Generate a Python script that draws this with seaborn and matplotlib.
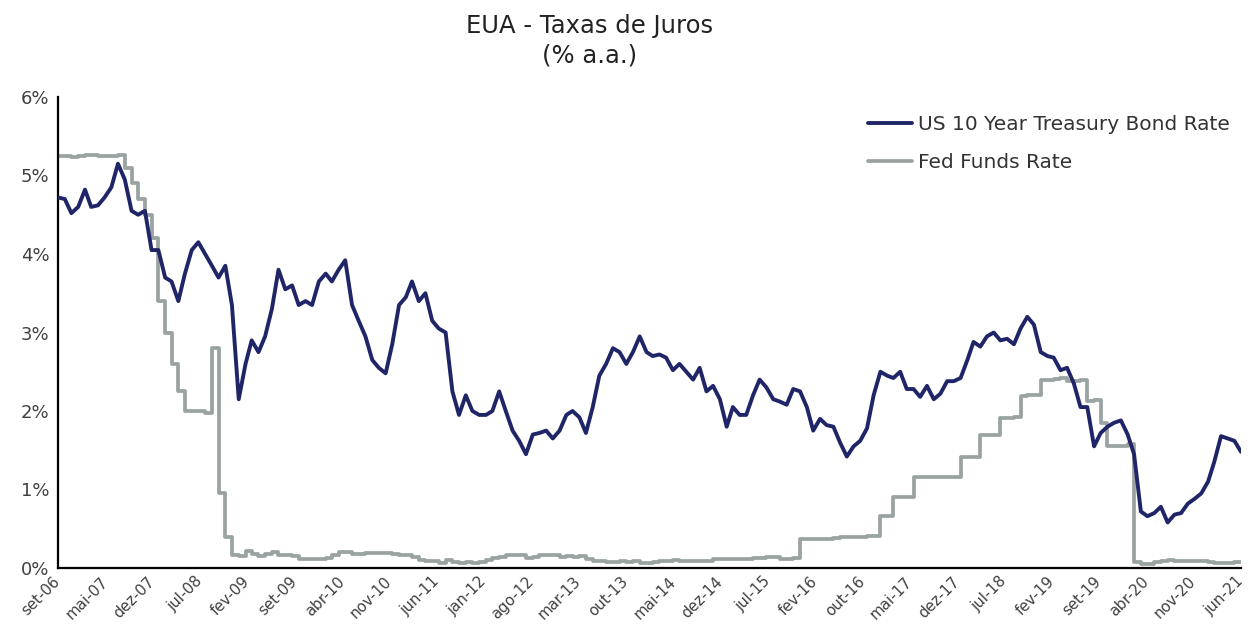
import numpy as np
import pandas as pd
import matplotlib
matplotlib.use("Agg")
import matplotlib.pyplot as plt
import matplotlib.dates as mdates
import seaborn as sns

# ---------------- data (monthly, Sep-2006 .. Jun-2021) ----------------
start_month = "2006-09-30"
end_month = "2021-06-30"

us10y = [
    # 2006 Sep-Dec
    4.72, 4.70, 4.52, 4.60,
    # 2007
    4.82, 4.60, 4.62, 4.72, 4.85, 5.15, 4.95, 4.55, 4.50, 4.55, 4.05, 4.05,
    # 2008
    3.70, 3.65, 3.40, 3.75, 4.05, 4.15, 4.00, 3.85, 3.70, 3.85, 3.35, 2.15,
    # 2009
    2.60, 2.90, 2.75, 2.95, 3.30, 3.80, 3.55, 3.60, 3.35, 3.40, 3.35, 3.65,
    # 2010
    3.75, 3.65, 3.80, 3.92, 3.35, 3.15, 2.95, 2.65, 2.55, 2.48, 2.85, 3.35,
    # 2011
    3.45, 3.65, 3.40, 3.50, 3.15, 3.05, 3.00, 2.25, 1.95, 2.20, 2.00, 1.95,
    # 2012
    1.95, 2.00, 2.25, 2.00, 1.75, 1.62, 1.45, 1.70, 1.72, 1.75, 1.65, 1.75,
    # 2013
    1.95, 2.00, 1.92, 1.72, 2.05, 2.45, 2.60, 2.80, 2.75, 2.60, 2.75, 2.95,
    # 2014
    2.75, 2.70, 2.72, 2.68, 2.52, 2.60, 2.50, 2.40, 2.55, 2.25, 2.32, 2.15,
    # 2015
    1.80, 2.05, 1.95, 1.95, 2.20, 2.40, 2.30, 2.15, 2.12, 2.08, 2.28, 2.25,
    # 2016
    2.05, 1.75, 1.90, 1.82, 1.80, 1.60, 1.42, 1.55, 1.62, 1.78, 2.20, 2.50,
    # 2017
    2.45, 2.42, 2.50, 2.28, 2.28, 2.18, 2.32, 2.15, 2.22, 2.38, 2.38, 2.42,
    # 2018
    2.65, 2.88, 2.82, 2.95, 3.00, 2.90, 2.92, 2.85, 3.05, 3.20, 3.10, 2.75,
    # 2019
    2.70, 2.68, 2.52, 2.55, 2.35, 2.05, 2.05, 1.55, 1.72, 1.80, 1.85, 1.88,
    # 2020
    1.70, 1.45, 0.72, 0.66, 0.70, 0.78, 0.58, 0.68, 0.70, 0.82, 0.88, 0.95,
    # 2021 Jan-Jun
    1.10, 1.35, 1.68, 1.65, 1.62, 1.48,
]

fed_funds = [
    # 2006 Sep-Dec
    5.25, 5.25, 5.25, 5.24,
    # 2007
    5.25, 5.26, 5.26, 5.25, 5.25, 5.25, 5.26, 5.10, 4.90, 4.70, 4.50, 4.20,
    # 2008
    3.40, 3.00, 2.60, 2.25, 2.00, 2.00, 2.00, 1.98, 2.80, 0.95, 0.40, 0.16,
    # 2009
    0.15, 0.22, 0.18, 0.15, 0.18, 0.21, 0.16, 0.16, 0.15, 0.12, 0.12, 0.12,
    # 2010
    0.11, 0.13, 0.16, 0.20, 0.20, 0.18, 0.18, 0.19, 0.19, 0.19, 0.19, 0.18,
    # 2011
    0.17, 0.16, 0.14, 0.10, 0.09, 0.09, 0.07, 0.10, 0.08, 0.07, 0.08, 0.07,
    # 2012
    0.08, 0.10, 0.13, 0.14, 0.16, 0.16, 0.16, 0.13, 0.14, 0.16, 0.16, 0.16,
    # 2013
    0.14, 0.15, 0.14, 0.15, 0.11, 0.09, 0.09, 0.08, 0.08, 0.09, 0.08, 0.09,
    # 2014
    0.07, 0.07, 0.08, 0.09, 0.09, 0.10, 0.09, 0.09, 0.09, 0.09, 0.09, 0.12,
    # 2015
    0.11, 0.11, 0.11, 0.12, 0.12, 0.13, 0.13, 0.14, 0.14, 0.12, 0.12, 0.13,
    # 2016
    0.37, 0.37, 0.37, 0.37, 0.37, 0.38, 0.39, 0.40, 0.40, 0.40, 0.41, 0.41,
    # 2017
    0.66, 0.66, 0.91, 0.91, 0.91, 1.16, 1.16, 1.16, 1.16, 1.16, 1.16, 1.16,
    # 2018
    1.42, 1.42, 1.42, 1.69, 1.70, 1.70, 1.91, 1.91, 1.92, 2.19, 2.20, 2.20,
    # 2019
    2.40, 2.40, 2.41, 2.42, 2.38, 2.38, 2.40, 2.13, 2.14, 1.85, 1.55, 1.55,
    # 2020
    1.55, 1.58, 0.08, 0.05, 0.05, 0.08, 0.09, 0.10, 0.09, 0.09, 0.09, 0.09,
    # 2021 Jan-Jun
    0.09, 0.08, 0.07, 0.07, 0.06, 0.08,
]

x_tick_labels = [
    "set-06", "mai-07", "dez-07", "jul-08", "fev-09", "set-09", "abr-10",
    "nov-10", "jun-11", "jan-12", "ago-12", "mar-13", "out-13", "mai-14",
    "dez-14", "jul-15", "fev-16", "out-16", "mai-17", "dez-17", "jul-18",
    "fev-19", "set-19", "abr-20", "nov-20", "jun-21",
]
y_ticks = [0, 1, 2, 3, 4, 5, 6]

series_names = ["US 10 Year Treasury Bond Rate", "Fed Funds Rate"]
series_colors = ["#1f2566", "#9aa2a2"]

title_text = "EUA - Taxas de Juros\n(% a.a.)"

# ---------------- build frame ----------------
dates = pd.date_range(start_month, end_month, freq="ME")
df = pd.DataFrame({
    "date": np.concatenate([dates, dates]),
    "value": np.concatenate([us10y, fed_funds]),
    "serie": [series_names[0]] * len(dates) + [series_names[1]] * len(dates),
})

# ---------------- plot ----------------
sns.set_theme(style="white")
plt.rcParams["font.family"] = ["DejaVu Sans"]

fig = plt.figure(figsize=(12.48, 6.27), dpi=100)
ax = fig.add_axes([58 / 1248, 1 - 568 / 627, (1241 - 58) / 1248, (568 - 97) / 627])

sns.lineplot(data=df[df.serie == series_names[1]], x="date", y="value",
             color=series_colors[1], linewidth=2.7, drawstyle="steps-pre",
             ax=ax, label=series_names[1], zorder=2)
sns.lineplot(data=df[df.serie == series_names[0]], x="date", y="value",
             color=series_colors[0], linewidth=2.8,
             ax=ax, label=series_names[0], zorder=3)

ax.set_ylim(0, 6)
x0 = mdates.date2num(pd.Timestamp(start_month))
x1 = mdates.date2num(pd.Timestamp(end_month))
ax.set_xlim(x0, x1)
ax.set_yticks(y_ticks)
ax.set_yticklabels([f"{v}%" for v in y_ticks], fontsize=13, color="#404040")
ax.set_xticks(np.linspace(x0, x1, len(x_tick_labels)))
ax.set_xticklabels(x_tick_labels, rotation=45, ha="right", va="center",
                   rotation_mode="anchor", fontsize=10.8, color="#404040")
ax.tick_params(axis="x", length=0, pad=8)
ax.tick_params(axis="y", length=0, pad=6)
ax.set_xlabel("")
ax.set_ylabel("")
for s in ["top", "right"]:
    ax.spines[s].set_visible(False)
for s in ["left", "bottom"]:
    ax.spines[s].set_color("black")
    ax.spines[s].set_linewidth(1.6)
ax.grid(False)

handles, labels = ax.get_legend_handles_labels()
order = [labels.index(n) for n in series_names]
leg = ax.legend([handles[i] for i in order], [labels[i] for i in order],
                loc="upper right", bbox_to_anchor=(1.006, 1.0), frameon=False,
                fontsize=14.5, handlelength=2.2, handletextpad=0.3,
                labelspacing=0.95, labelcolor="#333333")

fig.text(590 / 1248, 1 - 41 / 627, title_text, ha="center", va="center",
         fontsize=17.5, color="#222222", linespacing=1.3)

fig.savefig("out.png", dpi=100)
